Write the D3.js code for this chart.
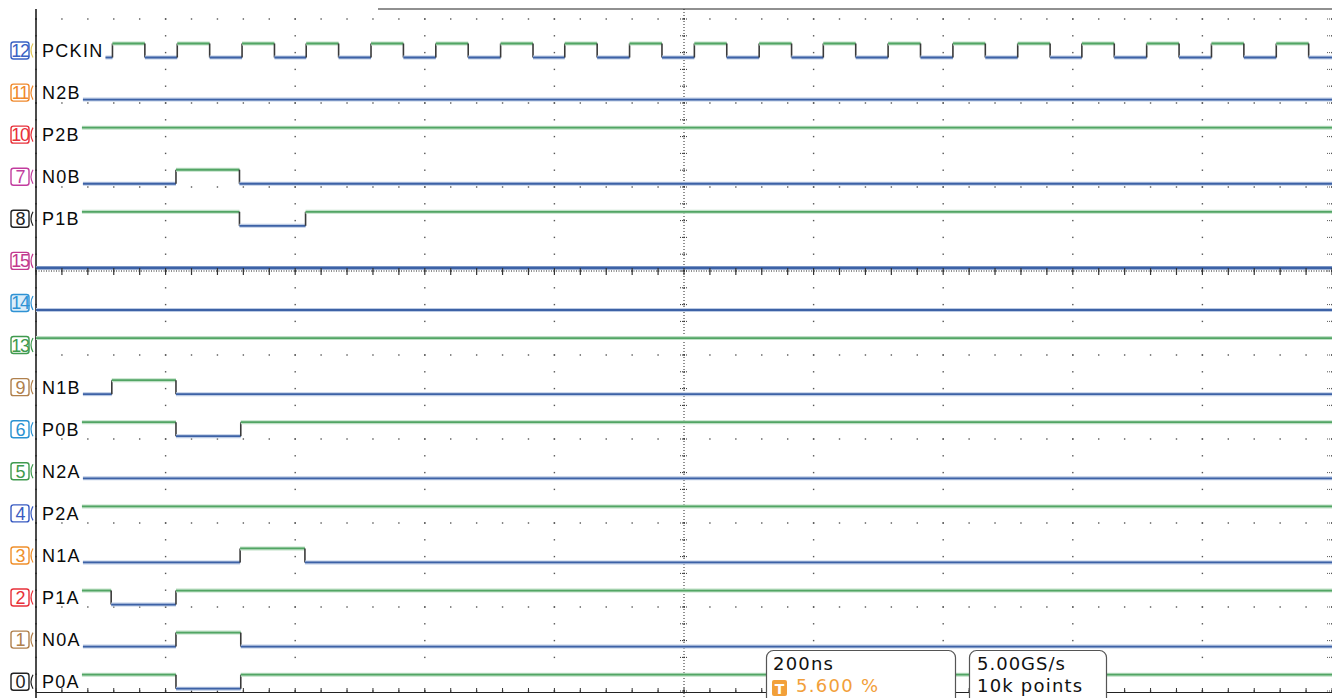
<!DOCTYPE html>
<html>
<head>
<meta charset="utf-8">
<script src="https://cdn.jsdelivr.net/npm/d3@7"></script>
<style>
  html, body { margin: 0; padding: 0; background: #fff; }
  svg { display: block; }
</style>
</head>
<body>
<div id="scope"></div>
<script>
// channel rows, top to bottom
const channelNums = [12, 11, 10, 7, 8, 15, 14, 13, 9, 6, 5, 4, 3, 2, 1, 0];
const channelNames = ['PCKIN', 'N2B', 'P2B', 'N0B', 'P1B', '', '', '', 'N1B', 'P0B', 'N2A', 'P2A', 'N1A', 'P1A', 'N0A', 'P0A'];
const channelColors = ['#3a62c4', '#f0892c', '#e8303a', '#c23c9e', '#222222', '#c2398f', '#2f92d4', '#3f9a4e',
  '#b0804c', '#2a92d2', '#3f9a4e', '#3a5cc2', '#f0902c', '#e8303a', '#b0804c', '#222222'];
// level at the left edge (1 = high)
const initialLevels = [0, 0, 1, 0, 1, 0, 0, 1, 0, 1, 0, 1, 0, 1, 0, 1];
// toggle times in ns (0 = left edge of screen, 200 ns/div)
const pckinEdges = [118, 168, 218, 268, 318, 368, 417, 467, 517, 567, 617, 667, 717, 767, 816, 866, 916, 966,
  1016, 1066, 1116, 1166, 1215, 1265, 1315, 1365, 1415, 1465, 1515, 1565, 1614, 1664, 1714, 1764, 1814, 1864, 1914, 1964];
const edgeTimes = [
  pckinEdges, [], [], [216, 314], [314, 416], [], [], [],
  [117, 216], [216, 316], [], [], [315, 415], [116, 216], [216, 316], [216, 316]
];
const timebase = '200ns';
const triggerPos = '5.600 %';
const sampleRate = '5.00GS/s';
const recordLen = '10k points';

const W = 1332, H = 698;
const svg = d3.select('#scope').append('svg').attr('width', W).attr('height', H);

const x = d3.scaleLinear().domain([0, 2000]).range([36, 1332]);
const yDiv = d3.scaleLinear().domain([0, 8]).range([19, 691]);
const yLow = d3.scaleLinear().domain([0, 15]).range([57.5, 688.7]);
const levelH = 14;

const minorX = d3.range(0, 2001, 40);
const majorX = d3.range(0, 2001, 200);
const minorY = d3.range(0, 8.001, 0.2);
const majorY = d3.range(0, 9, 1);

// grid dots
const grid = svg.append('g').attr('fill', '#555');
majorY.forEach(r => {
  grid.selectAll(null).data(minorX).enter().append('rect')
    .attr('x', d => x(d) - 0.7).attr('y', yDiv(r) - 0.7)
    .attr('width', 1.4).attr('height', 1.4);
});
majorX.forEach(c => {
  grid.selectAll(null).data(minorY).enter().append('rect')
    .attr('x', x(c) - 0.7).attr('y', d => yDiv(d) - 0.7)
    .attr('width', 1.4).attr('height', 1.4);
});

// frame
svg.append('line').attr('x1', 378).attr('x2', W).attr('y1', 9).attr('y2', 9)
  .attr('stroke', '#222').attr('stroke-width', 1.2);
svg.append('line').attr('x1', 36).attr('x2', 36).attr('y1', 9).attr('y2', H)
  .attr('stroke', '#111').attr('stroke-width', 1.5);
svg.append('line').attr('x1', 36).attr('x2', W).attr('y1', 692.5).attr('y2', 692.5)
  .attr('stroke', '#222').attr('stroke-width', 1.2);
svg.append('g').selectAll('line').data(minorX).enter().append('line')
  .attr('x1', d => x(d)).attr('x2', d => x(d)).attr('y1', 688).attr('y2', 692)
  .attr('stroke', '#333').attr('stroke-width', 1);

// centre vertical dotted line with ticks
const cx = x(1000);
svg.append('line').attr('x1', cx).attr('x2', cx).attr('y1', 9).attr('y2', H)
  .attr('stroke', '#222').attr('stroke-width', 1).attr('stroke-dasharray', '1,2');
svg.append('g').selectAll('line').data(minorY).enter().append('line')
  .attr('x1', cx - 4).attr('x2', cx + 4).attr('y1', d => yDiv(d)).attr('y2', d => yDiv(d))
  .attr('stroke', '#333').attr('stroke-width', 1).attr('stroke-dasharray', '1,1');
// right edge ticks
svg.append('g').selectAll('line').data(minorY).enter().append('line')
  .attr('x1', x(2000) - 5).attr('x2', x(2000)).attr('y1', d => yDiv(d)).attr('y2', d => yDiv(d))
  .attr('stroke', '#555').attr('stroke-width', 1).attr('stroke-dasharray', '1,1');

// waveforms
const greenC = '#52a564', blueC = '#3d62a6', edgeC = '#3a3a3a';
const waves = svg.append('g').attr('fill', 'none');
const labels = svg.append('g');

channelNums.forEach((num, i) => {
  const low = yLow(i), high = low - levelH, mid = low - levelH / 2;
  const col = channelColors[i];

  // channel tag
  const tag = labels.append('g');
  tag.append('rect').attr('x', 11).attr('y', mid - 8.5).attr('width', 18).attr('height', 17)
    .attr('rx', 2.5).attr('fill', num === 14 ? '#dceefa' : '#fff').attr('stroke', col).attr('stroke-width', 1.4);
  tag.append('path')
    .attr('d', `M33,${mid - 7} Q29,${mid} 33,${mid + 7}`)
    .attr('fill', 'none').attr('stroke', num === 12 ? '#e2c85a' : col).attr('stroke-width', 1.2);
  tag.append('text').attr('x', 20).attr('y', mid + 6.5)
    .attr('text-anchor', 'middle').attr('font-family', 'Liberation Sans Narrow, Liberation Sans, sans-serif')
    .attr('font-size', 18).attr('letter-spacing', -1.2).attr('fill', col).text(num);

  let x0 = 36;
  const name = channelNames[i];
  if (name) {
    const t = labels.append('text').attr('x', 42).attr('y', mid + 6.5)
      .attr('font-family', 'Liberation Sans, sans-serif').attr('font-size', 18)
      .attr('letter-spacing', 1.3).attr('fill', '#0a0a0a').text(name);
    x0 = 42 + t.node().getComputedTextLength() + 2;
  }

  let level = initialLevels[i];
  const stops = edgeTimes[i].map(t => x(t)).concat([x(2000)]);
  let cur = x0;
  stops.forEach((sx, k) => {
    const yy = level ? high : low;
    if (sx > cur) {
      waves.append('line').attr('x1', cur).attr('x2', sx).attr('y1', yy).attr('y2', yy)
        .attr('stroke', level ? '#bfe0c6' : '#bccbe4').attr('stroke-width', 4);
      waves.append('line').attr('x1', cur).attr('x2', sx).attr('y1', yy).attr('y2', yy)
        .attr('stroke', level ? greenC : blueC).attr('stroke-width', num === 15 ? 2.6 : 1.8);
    }
    if (k < stops.length - 1) {
      waves.append('line').attr('x1', sx).attr('x2', sx).attr('y1', high).attr('y2', low)
        .attr('stroke', edgeC).attr('stroke-width', 1.6);
      level = 1 - level;
    }
    cur = Math.max(cur, sx);
  });
});

// horizontal dotted ruler with ticks (division row 3)
const ry = yDiv(3);
svg.append('line').attr('x1', 36).attr('x2', W).attr('y1', ry).attr('y2', ry)
  .attr('stroke', '#222').attr('stroke-width', 1).attr('stroke-dasharray', '1,1.5');
svg.append('g').selectAll('line').data(minorX).enter().append('line')
  .attr('x1', d => x(d)).attr('x2', d => x(d)).attr('y1', ry - 3).attr('y2', ry + 4)
  .attr('stroke', '#333').attr('stroke-width', 1.2);

// info boxes
const info = svg.append('g').attr('font-family', 'DejaVu Sans, sans-serif').attr('font-size', 18);
info.append('rect').attr('x', 766.5).attr('y', 650.5).attr('width', 189).attr('height', 55)
  .attr('rx', 7).attr('fill', '#fff').attr('stroke', '#555').attr('stroke-width', 1.2);
info.append('rect').attr('x', 969.5).attr('y', 650.5).attr('width', 137).attr('height', 55)
  .attr('rx', 7).attr('fill', '#fff').attr('stroke', '#555').attr('stroke-width', 1.2);
info.append('text').attr('x', 773).attr('y', 670).attr('letter-spacing', 1.2).attr('fill', '#111').text(timebase);
info.append('rect').attr('x', 772).attr('y', 680).attr('width', 15).attr('height', 16).attr('rx', 2).attr('fill', '#f2a03a');
info.append('text').attr('x', 779.5).attr('y', 694).attr('text-anchor', 'middle').attr('font-size', 14)
  .attr('font-weight', 'bold').attr('fill', '#fff').text('T');
info.append('text').attr('x', 796).attr('y', 692).attr('letter-spacing', 1.3).attr('fill', '#f2a03a').text(triggerPos);
info.append('text').attr('x', 977).attr('y', 670).attr('letter-spacing', 1).attr('fill', '#111').text(sampleRate);
info.append('text').attr('x', 977).attr('y', 692).attr('letter-spacing', 1.2).attr('fill', '#111').text(recordLen);
</script>
</body>
</html>
